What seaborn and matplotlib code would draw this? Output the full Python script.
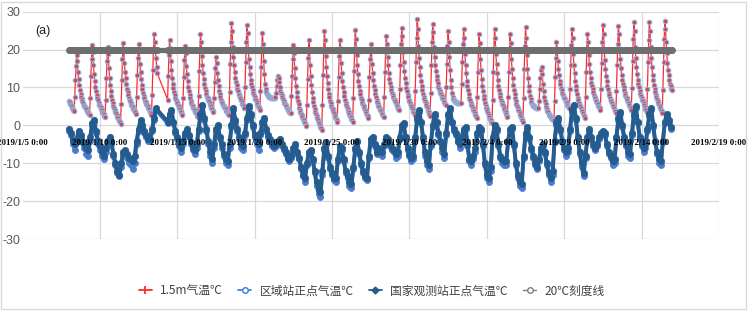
import sys
import numpy as np
import pandas as pd
import matplotlib
matplotlib.use("Agg")
import matplotlib.pyplot as plt
from matplotlib.lines import Line2D
from matplotlib.patches import Rectangle
import seaborn as sns

# ---------------- data ----------------
start = "2019-01-08 00:00"
end_hourly = "2019-02-15 23:00"
end_3h = "2019-02-15 21:00"
gap_start = "2019-01-13 18:00"   # records missing (inclusive range)
gap_end = "2019-01-14 08:00"

# 1.5 m temperature, hourly (one line per day)
red_1p5m = [
    6.5, 6.1, 5.7, 5.3, 5.0, 4.6, 4.3, 4.0, 3.8, 7.5, 11.9, 15.6, 18.5, 16.9, 14.1, 12.2, 10.6, 9.3, 8.4, 7.6, 7.0, 6.3, 5.9, 5.5,
    5.2, 4.8, 4.5, 4.2, 3.9, 3.6, 3.3, 3.0, 2.7, 7.3, 12.9, 17.5, 21.2, 19.3, 15.9, 13.6, 11.7, 10.2, 9.0, 8.1, 7.3, 6.6, 6.0, 5.5,
    5.1, 4.8, 4.4, 4.0, 3.6, 3.2, 2.9, 2.6, 2.2, 6.8, 12.4, 17.1, 20.8, 18.8, 15.1, 12.6, 10.6, 9.0, 7.7, 6.7, 5.9, 5.1, 4.5, 4.0,
    3.6, 3.2, 2.7, 2.3, 1.9, 1.5, 1.1, 0.8, 0.4, 5.7, 12.1, 17.4, 21.7, 19.8, 16.5, 14.2, 12.4, 10.9, 9.7, 8.8, 8.0, 7.3, 6.7, 6.3,
    5.9, 5.5, 5.2, 4.8, 4.4, 4.0, 3.7, 3.4, 3.0, 7.6, 13.2, 17.8, 21.5, 19.6, 16.3, 14.0, 12.2, 10.7, 9.5, 8.6, 7.8, 7.1, 6.5, 6.1,
    5.7, 5.3, 5.0, 4.6, 4.2, 3.8, 3.5, 3.2, 2.8, 8.1, 14.5, 19.8, 24.0, 22.0, 19.9, 17.7, 15.5, 13.7,
    6.8, 13.1, 18.6, 22.5, 20.5, 17.0, 14.6, 12.6, 11.0, 9.8, 8.8, 8.1, 7.3, 6.7, 6.2,
    5.8, 5.4, 5.0, 4.6, 4.2, 3.8, 3.4, 3.1, 2.7, 7.3, 12.8, 17.3, 21.0, 19.1, 15.7, 13.5, 11.6, 10.1, 9.0, 8.0, 7.3, 6.5, 6.0, 5.5,
    5.1, 4.7, 4.4, 4.0, 3.6, 3.2, 2.9, 2.6, 2.2, 7.7, 14.3, 19.8, 24.2, 22.1, 18.4, 15.9, 13.9, 12.2, 11.0, 9.9, 9.1, 8.3, 7.6, 7.1,
    6.7, 6.3, 5.9, 5.5, 5.1, 4.6, 4.2, 3.9, 3.5, 7.1, 11.5, 15.1, 18.0, 16.5, 13.7, 11.9, 10.4, 9.1, 8.2, 7.4, 6.8, 6.2, 5.8, 5.4,
    5.1, 4.8, 4.5, 4.2, 3.9, 3.5, 3.2, 3.0, 2.7, 8.8, 16.1, 22.1, 27.0, 24.8, 20.7, 18.0, 15.8, 14.0, 12.6, 11.5, 10.6, 9.7, 9.0, 8.4,
    8.0, 7.5, 7.1, 6.6, 6.2, 5.7, 5.3, 5.0, 4.5, 10.0, 16.6, 22.1, 26.5, 24.3, 20.2, 17.5, 15.3, 13.5, 12.1, 11.0, 10.1, 9.2, 8.5, 7.9,
    7.5, 7.0, 6.6, 6.1, 5.7, 5.2, 4.8, 4.5, 4.0, 9.1, 15.3, 20.4, 24.5, 21.5, 17.0, 13.5, 11.0, 9.5, 8.7, 8.3, 8.0, 7.8, 7.6, 7.5,
    7.4, 7.3, 7.3, 7.2, 7.2, 7.1, 7.2, 7.3, 7.5, 8.5, 10.5, 12.0, 13.0, 12.5, 11.5, 10.0, 9.0, 8.5, 8.0, 7.5, 7.0, 6.5, 6.0, 5.6,
    5.3, 5.0, 4.7, 4.4, 4.1, 3.8, 3.5, 3.3, 3.2, 7.7, 13.1, 17.6, 21.2, 19.1, 15.2, 12.6, 10.5, 8.8, 7.5, 6.4, 5.6, 4.7, 4.1, 3.5,
    3.1, 2.7, 2.3, 1.8, 1.4, 1.0, 0.5, 0.2, -0.2, 5.5, 12.2, 17.9, 22.4, 20.0, 15.8, 13.0, 10.6, 8.7, 7.3, 6.1, 5.2, 4.2, 3.5, 2.9,
    2.5, 2.0, 1.5, 1.0, 0.6, 0.1, -0.4, -0.7, -1.2, 5.4, 13.2, 19.8, 25.0, 22.6, 18.3, 15.4, 13.0, 11.1, 9.6, 8.4, 7.5, 6.5, 5.8, 5.2,
    4.7, 4.2, 3.8, 3.3, 2.8, 2.3, 1.8, 1.5, 1.0, 6.4, 12.8, 18.2, 22.5, 20.4, 16.5, 13.9, 11.8, 10.0, 8.7, 7.7, 6.8, 5.9, 5.3, 4.8,
    4.3, 3.9, 3.5, 3.0, 2.6, 2.2, 1.8, 1.4, 1.0, 7.1, 14.3, 20.4, 25.2, 22.9, 18.7, 15.9, 13.6, 11.7, 10.3, 9.1, 8.2, 7.3, 6.6, 6.0,
    5.5, 5.1, 4.6, 4.1, 3.7, 3.2, 2.7, 2.4, 1.9, 6.8, 12.7, 17.6, 21.5, 19.6, 16.1, 13.8, 11.9, 10.3, 9.2, 8.2, 7.4, 6.6, 6.1, 5.6,
    5.2, 4.8, 4.4, 4.0, 3.7, 3.3, 2.9, 2.6, 2.2, 7.6, 14.0, 19.3, 23.6, 21.6, 18.1, 15.8, 13.8, 12.2, 11.1, 10.1, 9.3, 8.5, 7.9, 7.4,
    7.0, 6.6, 6.3, 5.9, 5.5, 5.1, 4.7, 4.4, 4.0, 9.5, 16.0, 21.4, 25.8, 23.5, 19.4, 16.6, 14.3, 12.5, 11.1, 9.9, 9.0, 8.1, 7.4, 6.8,
    6.4, 5.9, 5.5, 5.0, 4.5, 4.1, 3.6, 3.3, 2.8, 9.1, 16.7, 23.0, 28.1, 25.5, 20.9, 17.9, 15.3, 13.3, 11.7, 10.4, 9.4, 8.4, 7.6, 7.0,
    6.5, 6.0, 5.4, 4.9, 4.4, 3.9, 3.4, 3.0, 2.5, 8.6, 15.8, 21.9, 26.7, 24.6, 20.7, 18.1, 16.0, 14.3, 13.0, 11.9, 11.1, 10.2, 9.6, 9.1,
    8.6, 8.2, 7.8, 7.3, 6.9, 6.5, 6.1, 5.7, 5.3, 10.2, 16.1, 21.0, 24.9, 22.0, 18.0, 14.5, 12.0, 10.0, 8.6, 7.6, 7.0, 6.6, 6.4, 6.2,
    6.1, 6.0, 6.0, 5.9, 5.9, 6.0, 6.0, 6.0, 6.0, 10.9, 16.7, 21.5, 25.4, 23.1, 18.8, 16.0, 13.7, 11.8, 10.4, 9.2, 8.2, 7.3, 6.6, 6.0,
    5.5, 5.1, 4.6, 4.1, 3.7, 3.2, 2.7, 2.4, 1.9, 7.5, 14.1, 19.7, 24.1, 21.7, 17.5, 14.7, 12.3, 10.4, 9.0, 7.8, 6.9, 5.9, 5.2, 4.6,
    4.2, 3.7, 3.2, 2.7, 2.3, 1.8, 1.3, 1.0, 0.5, 6.7, 14.2, 20.4, 25.4, 23.1, 18.9, 16.1, 13.8, 11.9, 10.5, 9.3, 8.4, 7.5, 6.8, 6.2,
    5.7, 5.3, 4.8, 4.3, 3.9, 3.4, 2.9, 2.6, 2.1, 7.6, 14.2, 19.7, 24.1, 21.8, 17.6, 14.9, 12.6, 10.7, 9.3, 8.2, 7.2, 6.3, 5.6, 5.0,
    4.6, 4.1, 3.7, 3.2, 2.7, 2.3, 1.8, 1.5, 1.0, 7.3, 14.8, 21.0, 26.0, 23.0, 18.5, 15.0, 12.5, 10.5, 9.0, 7.8, 6.9, 6.2, 5.7, 5.4,
    5.2, 5.0, 4.9, 4.8, 4.7, 4.6, 4.6, 4.6, 4.7, 6.5, 9.5, 12.5, 14.5, 15.3, 13.5, 11.0, 9.0, 7.5, 6.5, 5.6, 4.9, 4.3, 3.8, 3.4,
    3.1, 2.8, 2.5, 2.3, 2.0, 1.8, 1.6, 1.5, 1.4, 6.5, 12.7, 17.8, 21.9, 20.2, 17.0, 14.9, 13.2, 11.8, 10.8, 9.9, 9.2, 8.5, 8.0, 7.5,
    7.2, 6.9, 6.5, 6.2, 5.8, 5.5, 5.1, 4.9, 4.5, 9.7, 16.0, 21.2, 25.4, 23.1, 18.8, 16.0, 13.7, 11.8, 10.4, 9.2, 8.2, 7.3, 6.6, 6.0,
    5.5, 5.1, 4.6, 4.1, 3.7, 3.2, 2.7, 2.4, 1.9, 7.5, 14.1, 19.7, 24.1, 22.1, 18.5, 16.1, 14.1, 12.5, 11.3, 10.3, 9.5, 8.7, 8.1, 7.6,
    7.2, 6.8, 6.4, 6.0, 5.6, 5.2, 4.8, 4.5, 4.1, 9.7, 16.4, 22.0, 26.5, 24.2, 20.0, 17.2, 14.9, 13.0, 11.6, 10.4, 9.5, 8.6, 7.9, 7.3,
    6.8, 6.4, 5.9, 5.4, 5.0, 4.5, 4.0, 3.7, 3.2, 9.0, 15.9, 21.6, 26.2, 24.0, 20.0, 17.4, 15.2, 13.4, 12.1, 11.0, 10.1, 9.2, 8.5, 8.0,
    7.5, 7.1, 6.6, 6.2, 5.8, 5.3, 4.9, 4.5, 4.1, 9.9, 16.9, 22.7, 27.4, 25.0, 20.7, 17.8, 15.5, 13.5, 12.1, 10.9, 10.0, 9.0, 8.3, 7.7,
    7.2, 6.7, 6.3, 5.8, 5.3, 4.8, 4.3, 4.0, 3.5, 9.5, 16.6, 22.6, 27.4, 25.0, 20.6, 17.7, 15.3, 13.4, 11.9, 10.7, 9.7, 8.8, 8.0, 7.4,
    7.0, 6.5, 6.0, 5.5, 5.0, 4.5, 4.1, 3.7, 3.2, 9.3, 16.6, 22.7, 27.6, 25.5, 22.0, 19.0, 16.5, 14.6, 13.2, 12.0, 11.0, 10.3, 9.7, 9.2,
]

# regional station temperature, every 3 h (0,3,...,21 h; one line per day)
regional_3h = [
    -1.5, -2.5, -5, -6.5, -4, -2, -3, -4.5,
    -6, -7.5, -8, -4, 0, 1, -2, -5,
    -6.5, -8, -9, -7, -4.5, -3.5, -5, -8,
    -10.5, -12.5, -13.5, -11, -7.5, -7, -8.5, -10,
    -10.5, -11.5, -10, -5, -1.5, 1, -0.5, -2,
    -3, -4, -4, -1.5, 1.5, 4,
    0.5, 2.5, 3.5, 0.5, -2,
    -3.5, -5.5, -7, -5, -2.5, -1.5, -3, -5,
    -6.5, -7.5, -6, -1.5, 2.5, 5, 1.5, -1.5,
    -5, -8, -10, -6, -1.5, -0.5, -3.5, -6,
    -8, -10, -10.5, -6, -0.5, 4, 1, -1.5,
    -3.5, -6, -6.5, -2.5, 1.5, 4.5, 2.5, -0.5,
    -3, -5, -6.5, -2.5, 0.5, 1.5, -1.5, -3,
    -4, -5.5, -6, -5.5, -4.5, -4, -5.5, -6.5,
    -7.5, -9, -9.5, -8.5, -6.5, -5.5, -7.5, -9,
    -11.5, -13.5, -15, -10.5, -7.5, -7, -9.5, -12.5,
    -16, -18, -18.8, -13, -6.5, -5, -8.5, -11.5,
    -13, -14.5, -15, -9.5, -6, -6.5, -9.5, -12.5,
    -14, -16, -16.5, -11.5, -6.5, -4.5, -7.5, -10.5,
    -12.5, -14, -14.5, -8.5, -4, -3.5, -5.5, -7.5,
    -6.5, -7, -8, -5.5, -3.5, -4, -5.5, -6.5,
    -7, -8.5, -8, -3.5, -0.5, 0, -3.5, -6.5,
    -8, -9.5, -9, -3.5, 1.5, 3.5, 0.5, -3.5,
    -8, -10.5, -11.5, -5.5, -0.5, 2.5, 0.5, -2.5,
    -4.5, -7, -8.5, -2.5, 2.5, 4, 0.5, -1.5,
    -2.5, -4.5, -6, -3.5, -1.5, -1, -5.5, -9.5,
    -10.5, -9, -7, -2.5, -1, -1.5, -5.5, -10.5,
    -14, -15, -12, -3.5, -0.5, -1.5, -5.5, -8.5,
    -10, -10.5, -10.5, -4.5, -1.5, -1, -5.5, -10.5,
    -14, -16, -16.5, -8.5, -2.5, -1, -3.5, -6.5,
    -8.5, -10.5, -11.5, -9.5, -6.5, -5.5, -7.5, -10.5,
    -13, -15, -13, -4.5, 0, 1.5, -1.5, -4.5,
    -6.5, -8, -7, -1.5, 3.5, 5, 1.5, -3.5,
    -7.5, -11, -13.5, -8.5, -3.5, -1.5, -3.5, -5.5,
    -6.5, -5.5, -3.5, -2.5, -2, -2.5, -5.5, -7.5,
    -8.5, -10.5, -10, -3.5, 1.5, 3, -0.5, -3.5,
    -5.5, -8, -8.5, -2.5, 2.5, 4.5, 0.5, -3.5,
    -5.5, -7, -6, -1.5, 2.5, 4, -0.5, -4.5,
    -7.5, -10, -10.5, -4.5, 0.5, 2.5, 1, -1,
]

# national station temperature, every 3 h
national_3h = [
    -1, -2, -4, -5, -3.5, -1.5, -2.5, -4,
    -5, -6, -6.5, -3, 0.5, 1.5, -1.5, -4,
    -5.5, -7, -8, -6, -4, -3, -4.5, -7.5,
    -10, -12, -13, -10, -7, -6.5, -7.5, -8.5,
    -9, -9.5, -8, -4, -1, 1.5, 0, -1.5,
    -2.5, -3.5, -3.5, -1, 2, 4.5,
    1, 3, 4, 1, -1.5,
    -3, -5, -6, -4, -2, -1, -2.5, -4.5,
    -6, -6.5, -5, -1, 3, 5.5, 2, -1,
    -4, -7, -9, -5, -1, 0, -3, -5,
    -7.5, -9, -9.5, -5, 0, 4.5, 1.5, -1,
    -3, -5, -5.5, -2, 2, 5, 3, 0,
    -2.5, -4, -5, -2, 1, 2, -1, -2.5,
    -3.5, -5, -5.5, -5, -4, -3.5, -5, -6,
    -7, -8.5, -9, -8, -6, -5, -7, -8.5,
    -11, -13, -14, -10, -7, -6.5, -9, -12,
    -15, -17, -17.5, -12, -6, -4.5, -8, -11,
    -12.5, -14, -14, -9, -5.5, -6, -9, -12,
    -13.5, -15, -15.5, -11, -6, -4, -7, -10,
    -12, -13.5, -14, -8, -3.5, -3, -5, -7,
    -6, -6.5, -7, -5, -3, -3.5, -5, -6,
    -6.5, -7.5, -7, -3, 0, 0.5, -3, -6,
    -7.5, -8.5, -8, -3, 2, 4, 1, -3,
    -7, -9.5, -10.5, -5, 0, 3, 1, -2,
    -4, -6, -7.5, -2, 3, 4.5, 1, -1,
    -2, -4, -5, -3, -1, -0.5, -5, -9,
    -9.5, -8, -6, -2, -0.5, -1, -5, -10,
    -13, -14, -11, -3, 0, -1, -5, -8,
    -9, -9.5, -9.5, -4, -1, -0.5, -5, -10,
    -13, -15, -15.5, -8, -2, -0.5, -3, -6,
    -8, -10, -11, -9, -6, -5, -7, -10,
    -12.5, -14, -12, -4, 0.5, 2, -1, -4,
    -6, -7, -6, -1, 4, 5.5, 2, -3,
    -7, -10, -12.5, -8, -3, -1, -3, -5,
    -6, -5, -3, -2, -1.5, -2, -5, -7,
    -8, -9.5, -9, -3, 2, 3.5, 0, -3,
    -5, -7, -7.5, -2, 3, 5, 1, -3,
    -5, -6, -5, -1, 3, 4.5, 0, -4,
    -7, -9, -9.5, -4, 1, 3, 1.5, -0.5,
]

ref_line_value = 20

tick_dates = ["2019-01-05", "2019-01-10", "2019-01-15", "2019-01-20", "2019-01-25",
              "2019-01-30", "2019-02-04", "2019-02-09", "2019-02-14", "2019-02-19"]
tick_labels = ["2019/1/5 0:00", "2019/1/10 0:00", "2019/1/15 0:00", "2019/1/20 0:00",
               "2019/1/25 0:00", "2019/1/30 0:00", "2019/2/4 0:00", "2019/2/9 0:00",
               "2019/2/14 0:00", "2019/2/19 0:00"]
y_ticks = [-30, -20, -10, 0, 10, 20, 30]
legend_labels = ["1.5m气温℃", "区域站正点气温℃", "国家观测站正点气温℃", "20℃刻度线"]
panel_label = "(a)"

# ---------------- time axes ----------------
hourly = pd.date_range(start, end_hourly, freq="h")
hourly = hourly[(hourly < pd.Timestamp(gap_start)) | (hourly > pd.Timestamp(gap_end))]
three_h = pd.date_range(start, end_3h, freq="3h")
three_h = three_h[(three_h < pd.Timestamp(gap_start)) | (three_h > pd.Timestamp(gap_end))]


def fit(times, vals, name):
    n = min(len(times), len(vals))
    if len(times) != len(vals):
        print(f"warning: {name} {len(vals)} values vs {len(times)} times", file=sys.stderr)
    return pd.DataFrame({"t": times[:n], "v": np.asarray(vals[:n], dtype=float)})


df_red = fit(hourly, red_1p5m, "red")
df_reg = fit(three_h, regional_3h, "regional")
df_nat = fit(three_h, national_3h, "national")
df_ref = pd.DataFrame({"t": hourly, "v": np.full(len(hourly), float(ref_line_value))})

# ---------------- figure ----------------
sns.set_style("white")
plt.rcParams["font.family"] = ["Noto Sans CJK SC", "DejaVu Sans"]

W, H = 748, 311
fig = plt.figure(figsize=(W / 100, H / 100), dpi=100)
ax_l, ax_r, ax_t, ax_b = 22.5, 719, 11.7, 239
ax = fig.add_axes([ax_l / W, 1 - ax_b / H, (ax_r - ax_l) / W, (ax_b - ax_t) / H])

red_c = "#ff2a2a"
reg_c = "#4a7bd0"
nat_c = "#245c8f"
ref_c = "#6e6e6e"

sns.lineplot(data=df_red, x="t", y="v", ax=ax, color=red_c, linewidth=0.9,
             marker="o", markersize=3.3, markerfacecolor="#d8444e",
             markeredgecolor="#8fb4e3", markeredgewidth=0.7,
             estimator=None, errorbar=None, zorder=3)
sns.lineplot(data=df_reg, x="t", y="v", ax=ax, color=reg_c, linewidth=2.6,
             marker="o", markersize=4.4, markerfacecolor=reg_c, markeredgecolor=reg_c,
             markeredgewidth=0.5, estimator=None, errorbar=None, zorder=4)
sns.lineplot(data=df_nat, x="t", y="v", ax=ax, color=nat_c, linewidth=2.8,
             marker="o", markersize=4.6, markerfacecolor=nat_c, markeredgecolor=nat_c,
             markeredgewidth=0.5, estimator=None, errorbar=None, zorder=5)
sns.lineplot(data=df_ref, x="t", y="v", ax=ax, color=ref_c, linewidth=3.8,
             marker="o", markersize=4.2, markerfacecolor=ref_c, markeredgecolor=ref_c,
             estimator=None, errorbar=None, zorder=6)

tick_ts = pd.to_datetime(tick_dates)
ax.set_xlim(tick_ts[0], tick_ts[-1])
ax.set_ylim(y_ticks[0], y_ticks[-1])
ax.set_xlabel("")
ax.set_ylabel("")

grid_c = "#d9d9d9"
ax.set_yticks(y_ticks)
ax.yaxis.grid(True, color=grid_c, linewidth=0.9)
ax.xaxis.grid(False)
for d in tick_ts[1:]:
    ax.axvline(d, color=grid_c, linewidth=0.9, zorder=0.5)
ax.set_axisbelow(True)
ax.xaxis.set_zorder(10)   # date labels drawn over the data, as in the original

for s in ax.spines.values():
    s.set_visible(False)
ax.spines["bottom"].set_position(("data", 0))

ax.set_xticks(tick_ts)
ax.set_xticklabels(tick_labels)
for lab in ax.get_xticklabels():
    lab.set_fontfamily(["Liberation Serif", "DejaVu Serif"])
    lab.set_fontweight("bold")
    lab.set_fontsize(6.4)
    lab.set_color("#000000")
ax.tick_params(axis="x", length=0, pad=9.5)

ax.set_yticklabels([str(v) for v in y_ticks])
for lab in ax.get_yticklabels():
    lab.set_fontfamily(["Liberation Sans", "DejaVu Sans"])
    lab.set_fontsize(9)
    lab.set_color("#595959")
ax.tick_params(axis="y", length=0, pad=1.5)

fig.text(35 / W, 1 - 31 / H, panel_label, fontsize=9, ha="left", va="center",
         color="#222222", family=["Liberation Sans", "DejaVu Sans"])

handles = [
    Line2D([], [], color=red_c, lw=1.3, marker="|", markersize=6, markeredgewidth=1.3,
           markeredgecolor=red_c),
    Line2D([], [], color="#3f86d8", lw=1.3, marker="o", markersize=4, markerfacecolor="white",
           markeredgecolor="#3f86d8", markeredgewidth=1.1),
    Line2D([], [], color=nat_c, lw=1.3, marker="D", markersize=3.5, markerfacecolor=nat_c,
           markeredgecolor=nat_c),
    Line2D([], [], color="#7f7f7f", lw=1.0, marker="o", markersize=4, markerfacecolor="white",
           markeredgecolor="#7f7f7f", markeredgewidth=1.0),
]
fig.legend(handles, legend_labels, loc="center", bbox_to_anchor=(0.497, 1 - 291 / H),
           ncol=4, frameon=False, handlelength=1.1, handletextpad=0.7, columnspacing=1.3,
           prop={"family": ["Noto Sans CJK SC", "DejaVu Sans"], "size": 8.5},
           labelcolor="#404040")

fig.add_artist(Rectangle((0.5 / W, 2.5 / H), (W - 3) / W, (H - 4) / H, transform=fig.transFigure,
                         fill=False, edgecolor="#d9d9d9", linewidth=1.0))

fig.savefig("out.png", dpi=100)
